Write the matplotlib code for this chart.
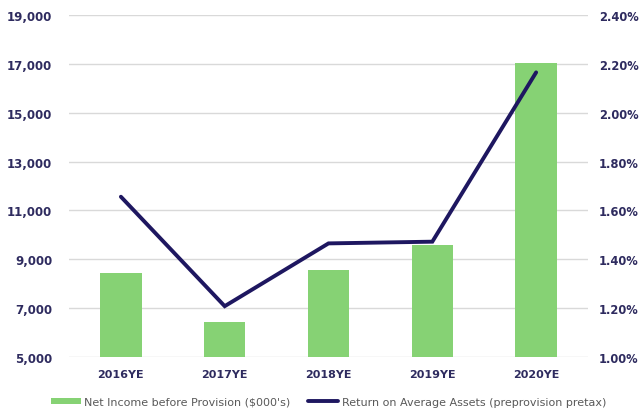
import matplotlib
matplotlib.use("Agg")
import matplotlib.pyplot as plt
from matplotlib.ticker import FuncFormatter, FixedLocator

# Data
categories = ["2016YE", "2017YE", "2018YE", "2019YE", "2020YE"]
net_income = [8430, 6440, 8560, 9580, 17050]          # $000's
roaa_pct = [1.656, 1.208, 1.465, 1.472, 2.165]         # %

left_ticks = [5000, 7000, 9000, 11000, 13000, 15000, 17000, 19000]
right_ticks = [1.00, 1.20, 1.40, 1.60, 1.80, 2.00, 2.20, 2.40]

bar_color = "#86d274"
line_color = "#1e1760"
tick_color = "#2e2b5f"
grid_color = "#d9d9d9"
legend_text_color = "#595959"

plt.rcParams["font.family"] = ["DejaVu Sans"]

fig = plt.figure(figsize=(6.43, 4.14), dpi=100)
ax = fig.add_axes([0.1073, 0.1353, 0.8072, 0.8261])

x = list(range(len(categories)))
bars = ax.bar(x, net_income, width=0.4, color=bar_color, zorder=2,
              label="Net Income before Provision ($000's)")
ax.set_xlim(-0.5, len(categories) - 0.5)
ax.set_ylim(left_ticks[0], left_ticks[-1])
ax.yaxis.set_major_locator(FixedLocator(left_ticks))
ax.yaxis.set_major_formatter(FuncFormatter(lambda v, p: f"{v:,.0f}"))
ax.set_xticks(x)
ax.set_xticklabels(categories)
ax.grid(axis="y", color=grid_color, linewidth=1.0, zorder=0)
ax.set_axisbelow(True)

ax2 = ax.twinx()
line, = ax2.plot(x, roaa_pct, color=line_color, linewidth=2.8,
                 solid_capstyle="round", solid_joinstyle="miter", zorder=3,
                 label="Return on Average Assets (preprovision pretax)")
ax2.set_ylim(right_ticks[0], right_ticks[-1])
ax2.yaxis.set_major_locator(FixedLocator(right_ticks))
ax2.yaxis.set_major_formatter(FuncFormatter(lambda v, p: f"{v:.2f}%"))

for a in (ax, ax2):
    for s in a.spines.values():
        s.set_visible(False)
    a.tick_params(length=0, colors=tick_color)

for lbl in ax.get_yticklabels():
    lbl.set_fontsize(8.5)
    lbl.set_fontweight("bold")
for lbl in ax2.get_yticklabels():
    lbl.set_fontsize(8.3)
    lbl.set_fontweight("bold")
for lbl in ax.get_xticklabels():
    lbl.set_fontsize(8)
    lbl.set_fontweight("bold")

ax.tick_params(axis="y", pad=12)
ax2.tick_params(axis="y", pad=8)
ax.tick_params(axis="x", pad=9)

leg = fig.legend([bars, line],
                 ["Net Income before Provision ($000's)",
                  "Return on Average Assets (preprovision pretax)"],
                 loc="center", bbox_to_anchor=(0.511, 0.027), ncol=2,
                 frameon=False, fontsize=8, handlelength=2.7,
                 handleheight=0.55, handletextpad=0.3, columnspacing=1.6,
                 borderpad=0.1)
for t in leg.get_texts():
    t.set_color(legend_text_color)

fig.savefig("out.png", dpi=100)
